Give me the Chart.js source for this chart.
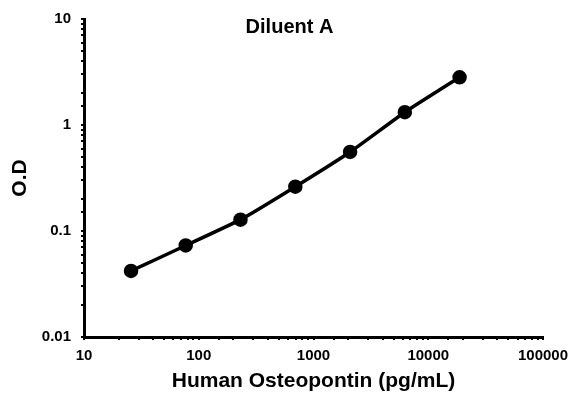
<!DOCTYPE html>
<html>
<head>
<meta charset="utf-8">
<script src="https://cdn.jsdelivr.net/npm/chart.js@4/dist/chart.umd.min.js"></script>
<style>
  html, body { margin: 0; padding: 0; background: #fff; }
  #wrap { width: 579px; height: 398px; position: relative; }
</style>
</head>
<body>
<div id="wrap"><canvas id="curve"></canvas></div>
<script>
// standard curve
const chartTitle = 'Diluent A';
const concentrations = [25.7, 77, 231, 694, 2083, 6250, 18750];
const odValues = [0.042, 0.073, 0.128, 0.262, 0.557, 1.32, 2.82];
const xTickLabels = [10, 100, 1000, 10000, 100000];
const yTickLabels = [0.01, 0.1, 1, 10];
const xAxisTitle = 'Human Osteopontin (pg/mL)';
const yAxisTitle = 'O.D';

const points = concentrations.map((c, i) => ({ x: c, y: odValues[i] }));

// only label the decades
function decadeLabel(list) {
    return function (value) {
        const hit = list.find(v => Math.abs(v - value) < v * 1e-6);
        return hit === undefined ? '' : String(hit);
    };
}

const tickFont = { family: 'Liberation Sans, Arial, sans-serif', size: 15, weight: 'bold' };
const titleFont = { family: 'Liberation Sans, Arial, sans-serif', size: 21, weight: 'bold' };

const innerTitle = {
    id: 'innerTitle',
    afterDraw(chart) {
        const ctx = chart.ctx;
        ctx.save();
        ctx.font = 'bold 20px "Liberation Sans", Arial, sans-serif';
        ctx.fillStyle = '#000';
        ctx.textAlign = 'center';
        ctx.textBaseline = 'middle';
        ctx.fillText(chartTitle, chart.width / 2, 27);
        ctx.restore();
    }
};

const ctx = document.getElementById('curve').getContext('2d');

new Chart(ctx, {
    type: 'line',
    data: {
        datasets: [{
            data: points,
            borderColor: '#000',
            backgroundColor: '#000',
            borderWidth: 3.5,
            pointRadius: 5.5,
            pointHoverRadius: 5.5,
            pointBackgroundColor: '#000',
            pointBorderColor: '#000',
            tension: 0.15,
            fill: false
        }]
    },
    options: {
        responsive: true,
        maintainAspectRatio: false,
        animation: false,
        layout: { padding: { top: 18, right: 36, left: 0, bottom: 0 } },
        plugins: {
            legend: { display: false },
            tooltip: { enabled: false }
        },
        scales: {
            x: {
                type: 'logarithmic',
                min: 10,
                max: 100000,
                afterFit(scale) { scale.height = 61; },
                border: { display: true, color: '#000', width: 3 },
                grid: { drawOnChartArea: false, drawTicks: true, tickLength: 3, color: '#000', lineWidth: 2 },
                ticks: {
                    autoSkip: false,
                    maxRotation: 0,
                    padding: 7,
                    color: '#000',
                    font: tickFont,
                    callback: decadeLabel(xTickLabels)
                },
                title: {
                    display: true,
                    text: xAxisTitle,
                    color: '#000',
                    font: titleFont,
                    padding: { top: 0, bottom: 4 }
                }
            },
            y: {
                type: 'logarithmic',
                min: 0.01,
                max: 10,
                afterFit(scale) { scale.width = 84; },
                border: { display: true, color: '#000', width: 3 },
                grid: { drawOnChartArea: false, drawTicks: true, tickLength: 3, color: '#000', lineWidth: 2 },
                ticks: {
                    autoSkip: false,
                    padding: 10,
                    color: '#000',
                    font: tickFont,
                    callback: decadeLabel(yTickLabels)
                },
                title: {
                    display: true,
                    text: yAxisTitle,
                    color: '#000',
                    font: titleFont,
                    padding: { top: 8, bottom: 0 }
                }
            }
        }
    },
    plugins: [innerTitle]
});
</script>
</body>
</html>
